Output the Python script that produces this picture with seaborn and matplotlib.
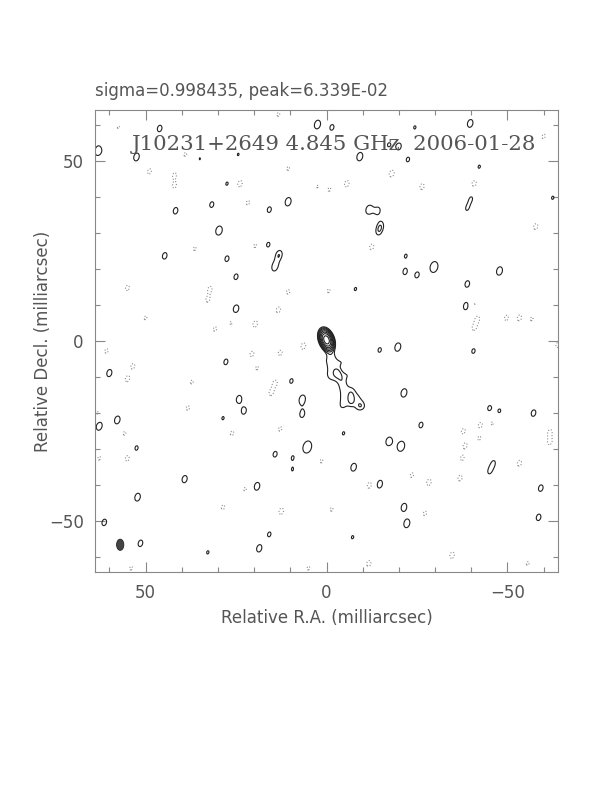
import numpy as np
import matplotlib
matplotlib.use("Agg")
import matplotlib.pyplot as plt
import seaborn as sns
from matplotlib.patches import Ellipse

# ---- values (mas, mJy) ----
peak_mjy = 63.39
clev = 4.2            # lowest contour level, mJy
n_levels = 8          # positive contours, factor sqrt(2)

# core and jet knots: ra, dec, amp (mJy), fwhm maj, fwhm min (mas), pa (deg)
src_ra = [0.0, -3.0, -6.8]
src_dec = [0.3, -8.8, -16.2]
src_amp = [62.0, 2.2, 2.4]
src_maj = [3.8, 2.2, 4.0]
src_min = [2.3, 1.8, 1.6]
src_pa = [20, 30, 0]

# diffuse jet emission (ra, dec, amp in mJy)
jet_ra = [-0.5, -2.0,
          0.3, -1.5, -3.3, -5.0, -6.4,
          0.3, -1.5, -3.3,
          0.0, -1.8, -3.6, -5.4, -7.2, -8.2,
          -1.0, -3.0, -4.6,
          -4.5,
          -4.0, -5.8, -7.6,
          -3.8, -5.6, -7.4, -9.2,
          -3.8, -5.6, -7.4, -9.2, -10.1,
          -3.6, -5.2, -8.4, -9.6]
jet_dec = [-4.0, -4.0,
           -5.7, -5.7, -5.7, -5.7, -6.1,
           -7.5, -7.5, -7.5,
           -9.3, -9.3, -9.3, -9.3, -9.3, -9.9,
           -10.8, -10.8, -10.8,
           -12.0,
           -13.2, -13.2, -13.2,
           -15.0, -15.0, -15.0, -15.0,
           -16.8, -16.8, -16.8, -16.8, -17.8,
           -18.6, -18.6, -18.6, -18.6]
jet_amp = [2.1] * len(jet_ra)

# larger noise islands (ra, dec, amp in units of lowest contour)
big_ra = [5.3, -29.7, -20.6, 29.7, 63.0]
big_dec = [-29.4, 20.5, -29.2, 30.6, 52.8]
big_amp = [1.38, 1.3, 1.25, 1.2, 1.25]

# positive noise peaks (ra, dec, amp in units of lowest contour)
pos_ra = [46.1, 52.5, 2.5, -1.5, 27.5, 31.7, 41.7, 10.6, 15.8, 44.7,
          27.5, 16.1, 13.1, 14.3, 35.0, 24.4, -24.4, -39.7, -17.2, -20.0, -9.2,
          -22.5, -42.2, -62.5, -38.8, -40.0, -14.2, -14.4, -15.0, -21.9,
          25.0, 25.0, 27.8, 60.0, 9.7, 24.2, 22.8, 6.7, 57.8, 28.6,
          -21.7, -25.0, -47.8, -38.9, -38.6, -8.0, -14.7, -19.7, -40.6, -21.4,
          -45.0, -47.8, -57.2, 62.8, 52.5, 39.2, 52.2, 61.4, 51.4, 14.2, 9.4,
          9.4, 19.2, 15.8, 18.6, 32.8, -26.1, -4.7, -17.2, -7.5,
          -14.7, -45.0, -46.2, -59.2, -21.4, -22.2, -58.6, -7.2, -11.7, 6.7]
pos_dec = [58.9, 51.0, 60.0, 59.2, 43.6, 37.8, 36.1, 38.6, 36.4, 23.6,
           22.8, 26.7, 23.9, 20.5, 50.5, 51.7, 59.2, 60.3, 54.4, 53.9, 51.1,
           50.3, 48.3, 39.7, 36.6, 39.6, 36.1, 30.2, 32.2, 23.6,
           17.8, 8.9, -5.8, -8.9, -11.1, -16.1, -19.4, -20.3, -21.9, -21.4,
           19.2, 18.3, 19.4, 15.8, 9.7, 14.4, -2.5, -1.7, -2.8, -14.4,
           -18.6, -19.4, -20.0, -23.6, -29.7, -38.3, -43.3, -50.3, -56.1, -31.4, -32.2,
           -35.8, -40.3, -53.6, -57.5, -58.6, -23.3, -25.6, -27.8, -35.0,
           -39.7, -36.3, -33.7, -40.8, -46.1, -50.6, -48.9, -54.4, 36.4, -16.2]
pos_amp = [1.2, 1.3, 1.38, 1.15, 1.05, 1.15, 1.2, 1.35, 1.15, 1.2,
           1.15, 1.1, 1.35, 1.3, 1.02, 1.03, 1.05, 1.3, 1.05, 1.2, 1.35,
           1.1, 1.05, 1.05, 0.98, 0.98, 1.15, 0.98, 0.98, 1.05,
           1.15, 1.3, 1.15, 1.25, 1.1, 1.25, 1.2, 1.2, 1.3, 1.05,
           1.15, 1.15, 1.35, 1.2, 1.3, 1.05, 1.1, 1.35, 1.1, 1.35,
           1.1, 1.05, 1.2, 1.35, 1.1, 1.25, 1.3, 1.2, 1.2, 1.15, 0.98,
           0.98, 1.3, 1.1, 1.25, 1.05, 1.15, 1.05, 1.3, 1.3,
           1.3, 0.98, 0.98, 1.2, 1.3, 1.35, 1.2, 1.05, 1.35, 1.38]

# negative noise peaks
neg_ra = [60.6, 57.5, 48.9, 42.0, 42.0, 23.9, 21.7, 36.4, 19.7, 10.6, 13.3, 39.0,
          2.5, -60.0, -18.0, -5.6, -0.8, -26.4, -40.8, -57.8, -12.5, 55.0, 32.2,
          32.8, 10.6, 13.3, 50.0, 30.8, 26.4, 19.7, 60.8, 53.5, 55.0, 20.6, 12.8,
          6.4, 19.2, 14.2, 15.3, 37.2, 38.3, 63.3, 1.6, -40.8, -41.7, -40.8, -49.7,
          -53.3, -56.7, -63.9, -0.6, 55.8, 55.0, 62.8, 26.1, 12.8, 22.5, 28.6,
          12.5, 1.4, 5.0, 54.0, -37.8, -38.3, -37.5, -42.5, -42.2, -45.8, -61.7,
          -61.7, -53.3, -36.9, -28.3, -23.6, -11.9, -1.4, -27.2, -34.7, -11.7, -55.6]
neg_dec = [55.8, 59.2, 47.0, 46.0, 43.0, 43.6, 38.3, 25.6, 26.4, 47.8, 62.8, 51.7,
           42.8, 56.7, 46.4, 43.6, 42.0, 42.8, 43.6, 31.7, 26.1, 14.7, 14.4,
           11.4, 13.6, 8.6, 6.4, 3.3, 5.0, 4.7, -2.8, -7.0, -10.5, -3.6, -3.3,
           -1.4, -7.5, -11.7, -14.4, -11.4, -18.6, -20.0, -8.2, 10.3, 6.1, 3.6, 6.4,
           6.4, 6.1, -1.1, 13.9, -25.6, -32.5, -32.5, -25.6, -24.4, -41.1, -46.1,
           -47.2, -33.3, -63.0, -63.0, -25.0, -29.0, -32.5, -23.3, -27.0, -22.8, -25.3,
           -28.0, -33.9, -38.0, -39.2, -37.2, -40.0, -46.7, -47.8, -59.4, -61.7, -61.7]
neg_amp = [-1.15, -1.05, -1.2, -1.15, -1.15, -1.3, -1.15, -1.1, -1.1, -1.1, -1.1, -1.1,
           -1.05, -1.15, -1.35, -1.3, -1.1, -1.25, -1.3, -1.25, -1.25, -1.2, -1.2,
           -1.15, -1.15, -1.25, -1.1, -1.15, -1.1, -1.3, -1.15, -1.2, -1.25, -1.2, -1.2,
           -1.3, -1.1, -1.25, -1.2, -1.1, -1.15, -1.1, -1.05, -1.15, -1.2, -1.15, -1.2,
           -1.25, -1.1, -1.2, -1.1, -1.1, -1.25, -1.1, -1.15, -1.15, -1.1, -1.15,
           -1.3, -1.1, -1.1, -1.1, -1.2, -1.2, -1.15, -1.2, -1.1, -1.1, -1.2,
           -1.2, -1.25, -1.25, -1.3, -1.15, -1.3, -1.1, -1.15, -1.3, -1.25, -1.1]

# restoring beam (mas)
beam_maj, beam_min, beam_pa = 3.1, 2.0, 0.0
beam_pos = (57.0, -56.5)

title_txt = "sigma=0.998435, peak=6.339E-02"
label_txt = "J10231+2649 4.845 GHz  2006-01-28"


def gauss2d(RA, DEC, ra0, dec0, amp, maj, mnr, pa):
    t = np.deg2rad(pa)
    dx, dy = RA - ra0, DEC - dec0
    u = dx * np.sin(t) + dy * np.cos(t)
    v = dx * np.cos(t) - dy * np.sin(t)
    return amp * np.exp(-4 * np.log(2) * ((u / maj) ** 2 + (v / mnr) ** 2))


ra = np.linspace(64, -64, 513)
dec = np.linspace(-64, 64, 513)
RA, DEC = np.meshgrid(ra, dec)

img = np.zeros_like(RA)
for i in range(len(src_ra)):
    img += gauss2d(RA, DEC, src_ra[i], src_dec[i], src_amp[i],
                   src_maj[i], src_min[i], src_pa[i])
for r0, d0, a in zip(jet_ra, jet_dec, jet_amp):
    img += gauss2d(RA, DEC, r0, d0, a, 2.6, 2.6, 0)
for r0, d0, a in zip(big_ra, big_dec, big_amp):
    img += gauss2d(RA, DEC, r0, d0, a * clev, 5.0, 3.4, -15)
for r0, d0, a in zip(pos_ra, pos_dec, pos_amp):
    img += gauss2d(RA, DEC, r0, d0, a * clev, 3.6, 2.4, -15)
for r0, d0, a in zip(neg_ra, neg_dec, neg_amp):
    img += gauss2d(RA, DEC, r0, d0, a * clev, 2.9, 2.0, -15)

levels = [-clev] + [clev * np.sqrt(2) ** k for k in range(n_levels)]
styles = ["dotted"] + ["solid"] * n_levels
colors = ["#8c8c8c"] + ["#222222"] * n_levels

sns.set_style("ticks")
plt.rcParams["font.family"] = ["DejaVu Sans"]
plt.rcParams["axes.edgecolor"] = "#888888"

fig = plt.figure(figsize=(6.12, 7.92), dpi=100)
ax = fig.add_axes([0.155, 0.278, 0.757, 0.583])

ax.contour(RA, DEC, img, levels=levels, colors=colors, linestyles=styles,
           linewidths=0.8)
ax.add_patch(Ellipse(beam_pos, beam_min, beam_maj, angle=-beam_pa,
                     facecolor="#444444", edgecolor="#222222", lw=0.6))

ax.set_xlim(64, -64)
ax.set_ylim(-64, 64)
ax.set_xticks([50, 0, -50])
ax.set_yticks([-50, 0, 50])
ax.set_xticks(np.arange(-60, 61, 10), minor=True)
ax.set_yticks(np.arange(-60, 61, 10), minor=True)
ax.set_xticklabels(["50", "0", "\u221250"])
ax.set_yticklabels(["\u221250", "0", "50"])
ax.tick_params(which="both", direction="in", top=True, right=True,
               color="#888888", labelcolor="#555555", labelsize=12)
ax.tick_params(which="major", length=7, width=0.8)
ax.tick_params(axis="x", which="major", pad=9)
ax.tick_params(axis="y", which="major", pad=8)
ax.tick_params(which="minor", length=3.5, width=0.8)
for s in ax.spines.values():
    s.set_linewidth(0.8)

ax.set_xlabel("Relative R.A. (milliarcsec)", fontsize=12, color="#555555",
              labelpad=5)
ax.set_ylabel("Relative Decl. (milliarcsec)", fontsize=12, color="#555555",
              labelpad=-2)
ax.set_title(title_txt, loc="left", fontsize=12, color="#555555", pad=10)
ax.text(-2, 54.4, label_txt, ha="center", va="center", fontsize=15.3,
        family="DejaVu Serif", color="#555555")

fig.savefig("out.png", dpi=100)
